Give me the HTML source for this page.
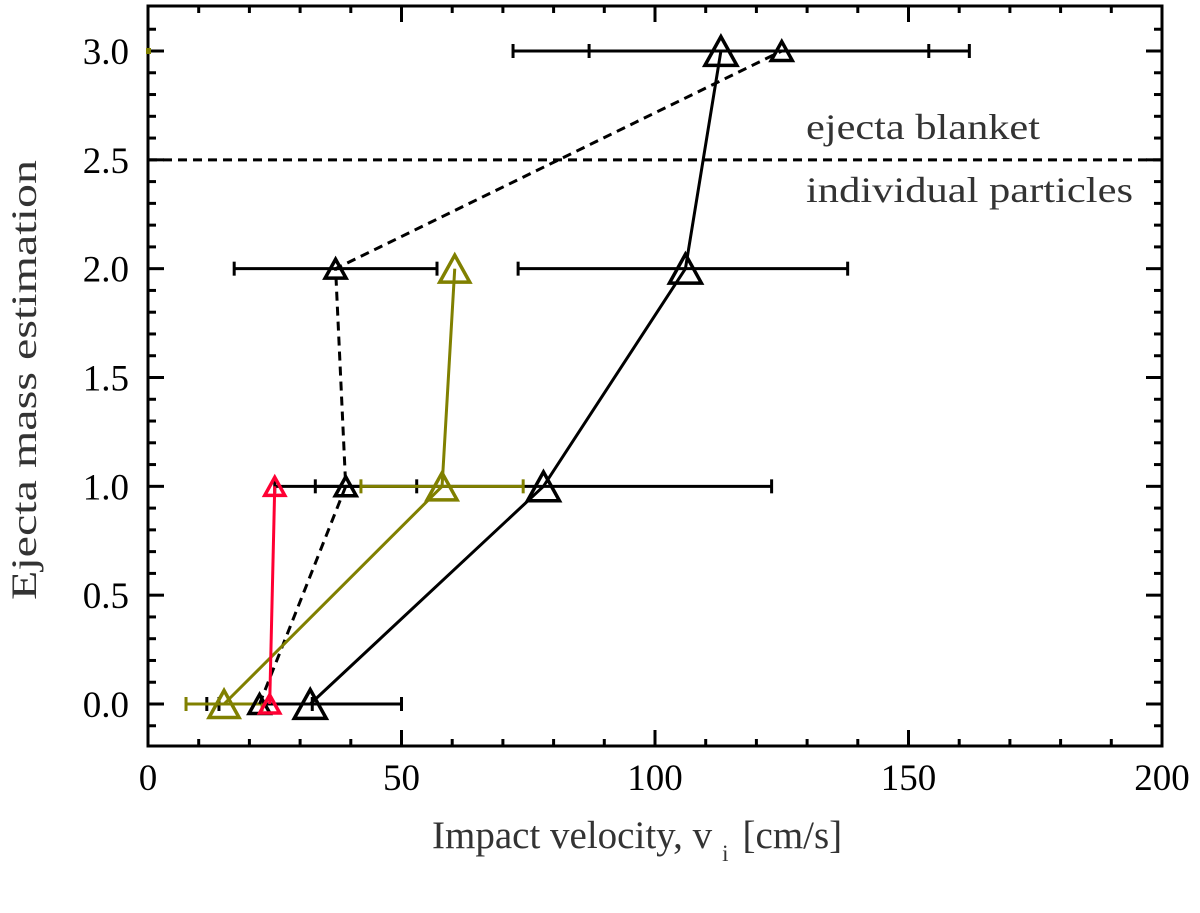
<!DOCTYPE html>
<html><head><meta charset="utf-8"><style>
html,body{margin:0;padding:0;background:#fff;}
svg{display:block;font-family:"Liberation Serif",serif;}
</style></head><body>
<svg id="chart" width="1200" height="913" viewBox="0 0 1200 913" xmlns="http://www.w3.org/2000/svg">
<g id="axes"></g>
<g id="series"></g>
<text x="806" y="139" font-size="36" fill="#333" textLength="234" lengthAdjust="spacingAndGlyphs">ejecta blanket</text>
<text x="806" y="202" font-size="36" fill="#333" textLength="327" lengthAdjust="spacingAndGlyphs">individual particles</text>
<text x="432" y="848" font-size="39" fill="#333">Impact velocity, v<tspan font-size="23" dx="10" dy="13">i</tspan><tspan dx="14" dy="-13">[cm/s]</tspan></text>
<text transform="translate(36,380) rotate(-90)" font-size="36" fill="#333" text-anchor="middle" textLength="440" lengthAdjust="spacingAndGlyphs">Ejecta mass estimation</text>
</svg>
<script>
const xTicks=[0,50,100,150,200];
const yTicks=[0.0,0.5,1.0,1.5,2.0,2.5,3.0];
// solid black
const solidX=[32,78,106,113];
const solidY=[0,1,2,3];
const solidErrLo=[14,33,73,72];
const solidErrHi=[50,123,138,154];
// dashed black
const dashX=[22,39,37,125];
const dashY=[0,1,2,3];
const dashErrLo=[11.6,25,17,87];
const dashErrHi=[32.4,53,57,162];
// olive
const oliveX=[15,58,60.5];
const oliveY=[0,1,2];
const oliveErrLo=[7.5,42,null];
const oliveErrHi=[22.5,74,null];
// red
const redX=[24,25];
const redY=[0,1];
const boundaryY=2.5;

const X0=148,X1=1162,YT=6,YB=746;
const xs=v=>X0+(v-0)/(200-0)*(X1-X0);
const ys=v=>704-(v-0)*(704-51)/3;
const NS="http://www.w3.org/2000/svg";
function mk(tag,attrs,parent){const e=document.createElementNS(NS,tag);for(const k in attrs)e.setAttribute(k,attrs[k]);parent.appendChild(e);return e;}
const ax=document.getElementById('axes'), sr=document.getElementById('series');

let fr=mk('rect',{x:X0,y:YT,width:X1-X0,height:YB-YT,fill:'none',stroke:'#000','stroke-width':3},ax);


for(let v=0;v<=200;v+=10){const maj=v%50===0;const L=maj?16:7;
 let t=mk('line',{x1:xs(v),x2:xs(v),y1:YB,y2:YB-L,stroke:'#000','stroke-width':3},ax);
 
 
 let t2=mk('line',{x1:xs(v),x2:xs(v),y1:YT,y2:YT+L,stroke:'#000','stroke-width':3},ax);
 
 }
xTicks.forEach(v=>{let t=mk('text',{x:xs(v),y:790,'font-size':37,'text-anchor':'middle',fill:'#000'},ax);t.textContent=v;
 
 });
for(let i=-1;i<=31;i++){const v=i/10;const y=ys(v);if(y<YT+2||y>YB-2)continue;const maj=i%5===0;const L=maj?16:8;
 let t=mk('line',{x1:X0,x2:X0+L,y1:y,y2:y,stroke:'#000','stroke-width':3},ax);
 
 
 let t2=mk('line',{x1:X1,x2:X1-L,y1:y,y2:y,stroke:'#000','stroke-width':3},ax);
 
 }
yTicks.forEach(v=>{let t=mk('text',{x:129,y:ys(v)+13,'font-size':37,'text-anchor':'end',fill:'#000'},ax);t.textContent=v.toFixed(1);
 
 });

let bl=mk('line',{x1:X0,x2:X1,y1:ys(boundaryY),y2:ys(boundaryY),stroke:'#000','stroke-width':3,'stroke-dasharray':'9,6'},sr);



function errbars(xl,xh,yv,col,name){xl.forEach((lo,i)=>{if(lo==null)return;const y=ys(yv[i]);
 let l=mk('line',{x1:xs(lo),x2:xs(xh[i]),y1:y,y2:y,stroke:col,'stroke-width':3},sr);
 
 
 [lo,xh[i]].forEach(v=>{let c=mk('line',{x1:xs(v),x2:xs(v),y1:y-7,y2:y+7,stroke:col,'stroke-width':3},sr);
  
  });});}
function line(xv,yv,col,dash,name){const pts=xv.map((v,i)=>xs(v)+','+ys(yv[i])).join(' ');
 let p=mk('polyline',{points:pts,fill:'none',stroke:col,'stroke-width':3,'stroke-dasharray':dash||'none'},sr);
 
 }
function tris(xv,yv,col,sz,name){xv.forEach((v,i)=>{const cx=xs(v),cy=ys(yv[i]);const w=sz,h=sz*0.9;
 let t=mk('polygon',{points:`${cx},${cy-h/2} ${cx-w/2},${cy+h/2} ${cx+w/2},${cy+h/2}`,fill:'none',stroke:col,'stroke-width':3.5},sr);
 
 });}

const olive='#808000', red='#ff0033';
errbars(solidErrLo,solidErrHi,solidY,'#000','solid');
errbars(dashErrLo,dashErrHi,dashY,'#000','dashed');
errbars(oliveErrLo,oliveErrHi,oliveY,olive,'olive');
line(solidX,solidY,'#000',null,'solid');
line(dashX,dashY,'#000','9,6','dashed');
line(oliveX,oliveY,olive,null,'olive');
line(redX,redY,red,null,'red');
tris(solidX,solidY,'#000',32,'solid');
tris(dashX,dashY,'#000',21,'dashed');
tris(oliveX,oliveY,olive,30,'olive');
tris(redX,redY,red,20,'red');
let om=mk('rect',{x:X0-2,y:ys(3)-3,width:5,height:6,fill:olive},sr);


</script>
</body></html>
